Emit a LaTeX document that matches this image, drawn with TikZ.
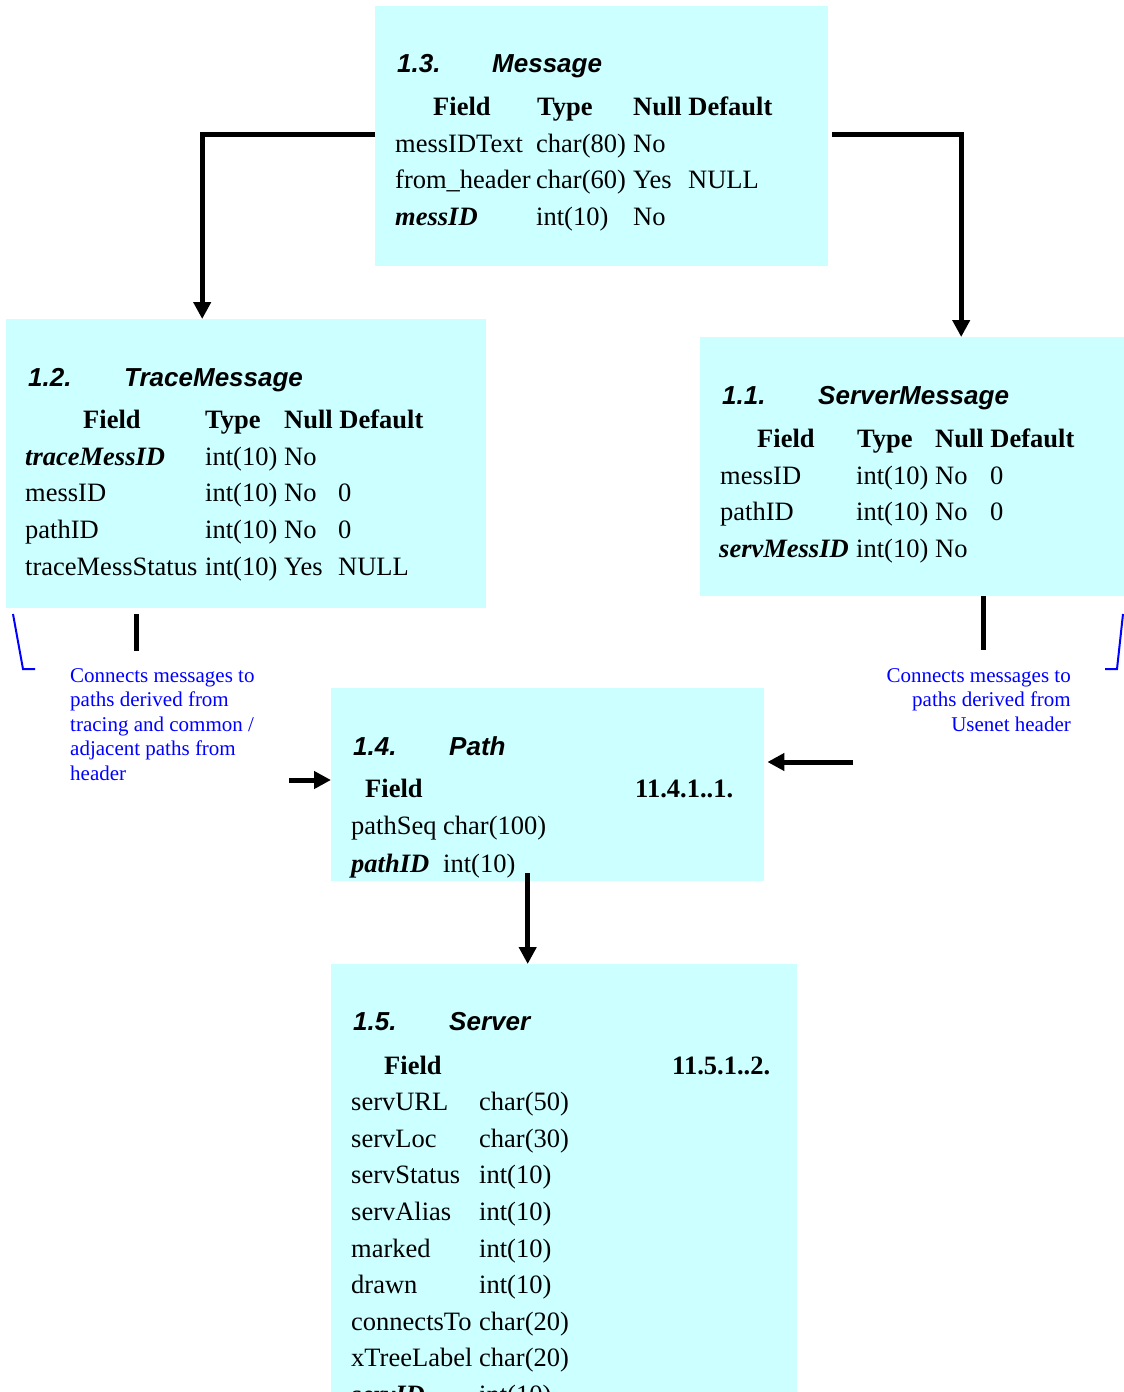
\documentclass[tikz,border=0pt]{standalone}
\usepackage{fontspec}
\setmainfont{Liberation Serif}
\newfontfamily\headfont{Liberation Sans}
\usetikzlibrary{arrows.meta}
\definecolor{boxcyan}{RGB}{204,255,255}
\definecolor{noteblue}{RGB}{0,0,255}
\newcommand\tcell[4]{\node[txt] (#1) at (#2,#3) {#4};}
\newcommand\hcell[4]{\node[hdr] (#1) at (#2,#3) {#4};}
\newcommand\kcell[4]{\node[key] (#1) at (#2,#3) {#4};}
\newcommand\ttl[4]{\node[ttlstyle] (#1) at (#2,#3) {#4};}
\begin{document}
\begin{tikzpicture}[x=1pt,y=-1pt,
  tbox/.style={fill=boxcyan, draw=none, inner sep=0, anchor=north west},
  txt/.style={anchor=base west, inner sep=0, font=\fontsize{26.5}{30}\selectfont},
  hdr/.style={txt, font=\fontsize{26.5}{30}\selectfont\bfseries},
  key/.style={txt, font=\fontsize{26.5}{30}\selectfont\bfseries\itshape},
  ttlstyle/.style={anchor=base west, inner sep=0, font=\fontsize{26}{30}\selectfont\headfont\bfseries\itshape},
  note/.style={inner sep=0, text=noteblue, font=\fontsize{21}{24}\selectfont},
  conn/.style={line width=5pt, -{Triangle[width=17pt,length=17pt]}},
  stub/.style={line width=5pt},
  bracket/.style={draw=noteblue, line width=2pt}]
\useasboundingbox (0,0) rectangle (1124,1392);
\begin{scope}
\clip (0,0) rectangle (1124,1392);

% boxes
\node[tbox, minimum width=453pt, minimum height=260pt] (msg) at (375,6) {};
\node[tbox, minimum width=480pt, minimum height=289pt] (trace) at (6,319) {};
\node[tbox, minimum width=424pt, minimum height=259pt] (smsg) at (700,337) {};
\node[tbox, minimum width=433pt, minimum height=193pt] (path) at (331,688) {};
\node[tbox, minimum width=466pt, minimum height=440pt] (server) at (331,964) {};

% Message
\ttl{m0a}{397}{72}{1.3.}
\ttl{m0b}{492}{72}{Message}
\hcell{mh1}{433}{115}{Field}
\hcell{mh2}{537}{115}{Type}
\hcell{mh3}{633}{115}{Null Default}
\tcell{m1a}{395}{152}{messIDText}
\tcell{m1b}{536}{152}{char(80)}
\tcell{m1c}{633}{152}{No}
\tcell{m2a}{395}{188.5}{from\_header}
\tcell{m2b}{536}{188.5}{char(60)}
\tcell{m2c}{633}{188.5}{Yes}
\tcell{m2d}{688}{188.5}{NULL}
\kcell{m3a}{395}{225}{messID}
\tcell{m3b}{536}{225}{int(10)}
\tcell{m3c}{633}{225}{No}

% TraceMessage
\ttl{t0a}{28}{386}{1.2.}
\ttl{t0b}{124}{386}{TraceMessage}
\hcell{th1}{83}{428}{Field}
\hcell{th2}{205}{428}{Type}
\hcell{th3}{284}{428}{Null Default}
\kcell{t1a}{25}{465}{traceMessID}
\tcell{t1b}{205}{465}{int(10)}
\tcell{t1c}{284}{465}{No}
\tcell{t2a}{25}{501}{messID}
\tcell{t2b}{205}{501}{int(10)}
\tcell{t2c}{284}{501}{No}
\tcell{t2d}{338}{501}{0}
\tcell{t3a}{25}{538}{pathID}
\tcell{t3b}{205}{538}{int(10)}
\tcell{t3c}{284}{538}{No}
\tcell{t3d}{338}{538}{0}
\tcell{t4a}{25}{575}{traceMessStatus}
\tcell{t4b}{205}{575}{int(10)}
\tcell{t4c}{284}{575}{Yes}
\tcell{t4d}{338}{575}{NULL}

% ServerMessage
\ttl{s0a}{722}{404}{1.1.}
\ttl{s0b}{818}{404}{ServerMessage}
\hcell{sh1}{757}{447}{Field}
\hcell{sh2}{857}{447}{Type}
\hcell{sh3}{935}{447}{Null Default}
\tcell{s1a}{720}{484}{messID}
\tcell{s1b}{856}{484}{int(10)}
\tcell{s1c}{935}{484}{No}
\tcell{s1d}{990}{484}{0}
\tcell{s2a}{720}{520}{pathID}
\tcell{s2b}{856}{520}{int(10)}
\tcell{s2c}{935}{520}{No}
\tcell{s2d}{990}{520}{0}
\kcell{s3a}{719}{557}{servMessID}
\tcell{s3b}{856}{557}{int(10)}
\tcell{s3c}{935}{557}{No}

% Path (text clipped by box)
\begin{scope}
\clip (path.north west) rectangle ([yshift=3pt]path.south east);
\ttl{p0a}{353}{755}{1.4.}
\ttl{p0b}{449}{755}{Path}
\hcell{ph1}{365}{797}{Field}
\hcell{ph2}{635}{797}{11.4.1..1.}
\tcell{p1a}{351}{834}{pathSeq}
\tcell{p1b}{443}{834}{char(100)}
\kcell{p2a}{351}{872}{pathID}
\tcell{p2b}{443}{872}{int(10)}
\end{scope}

% Server
\ttl{v0a}{353}{1030}{1.5.}
\ttl{v0b}{449}{1030}{Server}
\hcell{vh1}{384}{1074}{Field}
\hcell{vh2}{672}{1074}{11.5.1..2.}
\tcell{v1a}{351}{1110}{servURL}
\tcell{v1b}{479}{1110}{char(50)}
\tcell{v2a}{351}{1147}{servLoc}
\tcell{v2b}{479}{1147}{char(30)}
\tcell{v3a}{351}{1183}{servStatus}
\tcell{v3b}{479}{1183}{int(10)}
\tcell{v4a}{351}{1220}{servAlias}
\tcell{v4b}{479}{1220}{int(10)}
\tcell{v5a}{351}{1257}{marked}
\tcell{v5b}{479}{1257}{int(10)}
\tcell{v6a}{351}{1293}{drawn}
\tcell{v6b}{479}{1293}{int(10)}
\tcell{v7a}{351}{1330}{connectsTo}
\tcell{v7b}{479}{1330}{char(20)}
\tcell{v8a}{351}{1366}{xTreeLabel}
\tcell{v8b}{479}{1366}{char(20)}
\kcell{v9a}{351}{1403}{servID}
\tcell{v9b}{479}{1403}{int(10)}

% notes
\node[note, anchor=base west] (nl1) at (70,682) {Connects messages to};
\node[note, anchor=base west] (nl2) at (70,706) {paths derived from};
\node[note, anchor=base west] (nl3) at (70,731) {tracing and common /};
\node[note, anchor=base west] (nl4) at (70,755) {adjacent paths from};
\node[note, anchor=base west] (nl5) at (70,780) {header};
\node[note, anchor=base east] (nr1) at (1071,682) {Connects messages to};
\node[note, anchor=base east] (nr2) at (1071,706) {paths derived from};
\node[note, anchor=base east] (nr3) at (1071,731) {Usenet header};

\draw[bracket] (13,614) -- (23,669) -- (35,669);
\draw[bracket] (1123,614) -- (1117,669) -- (1105,669);

% connectors
\draw[conn] ([yshift=2pt]msg.west) -| ([xshift=-44pt]trace.north);
\draw[conn] ([shift={(4pt,2pt)}]msg.east) -| ([xshift=49pt]smsg.north);
\draw[stub] ([shift={(-110pt,-6pt)}]trace.south) -- ++(0,37);
\coordinate (pinL) at (289,780);
\draw[conn] (pinL) -- (pinL -| path.west);
\draw[stub] ([xshift=71pt]smsg.south) -- ++(0,54);
\coordinate (pinR) at (853,762);
\draw[conn] (pinR) -- ([xshift=3pt]pinR -| path.east);
\draw[conn] ([shift={(-20pt,8pt)}]path.south) -- ([xshift=-20pt]path.south |- server.north);
\end{scope}
\end{tikzpicture}
\end{document}
